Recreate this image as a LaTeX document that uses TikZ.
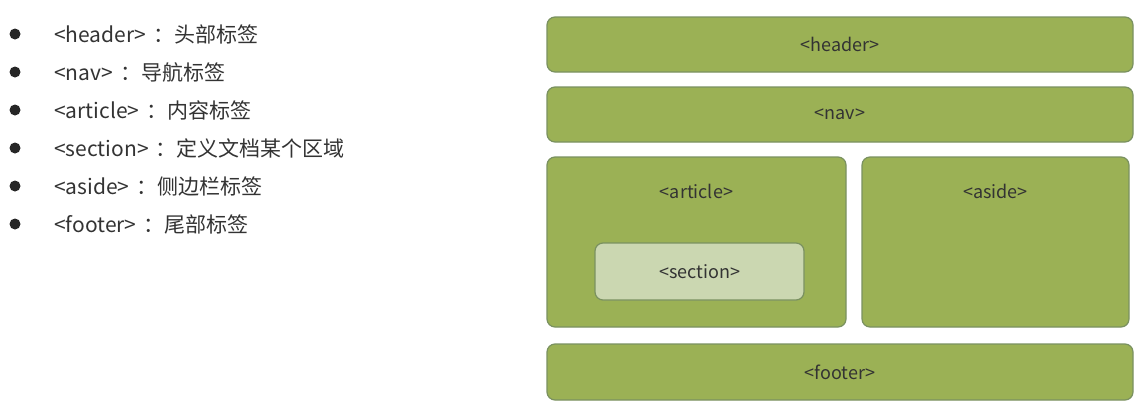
\documentclass[tikz,border=0pt]{standalone}
\usepackage{fontspec}
\setmainfont{Noto Sans CJK SC}
\usetikzlibrary{positioning}
\definecolor{boxgreen}{HTML}{9BB155}
\definecolor{boxedge}{HTML}{7A9160}
\definecolor{secfill}{HTML}{CBD7B1}
\definecolor{txtgray}{HTML}{333333}
\newcommand{\tagsep}{\hspace{7pt}：}
\tikzset{
  tagbox/.style={draw=boxedge, line width=1.2pt, fill=boxgreen, rounded corners=8pt, inner sep=0pt},
  tagtext/.style={text=txtgray, font=\fontsize{18}{20}\selectfont},
  listtext/.style={text=txtgray, anchor=west, inner sep=0pt, font=\fontsize{21}{24}\selectfont},
}
\begin{document}
\begin{tikzpicture}[x=1pt, y=-1pt]
\useasboundingbox (0,0) rectangle (1145,415);
% list on the left
\foreach \i/\txt in {1/{<header>\tagsep 头部标签}, 2/{<nav>\tagsep 导航标签}, 3/{<article>\tagsep 内容标签},
                     4/{<section>\tagsep 定义文档某个区域}, 5/{<aside>\tagsep 侧边栏标签}, 6/{<footer>\tagsep 尾部标签}} {
  \fill[black!85] (15, {34+38*(\i-1)}) circle (5.5);
  \node[listtext] (item\i) at (54, {34+38*(\i-1)}) {\txt};
}
% page layout boxes
\node[tagbox, minimum width=586pt, minimum height=55pt] (hdr) at (840,44.5) {};
\node[tagtext] at (hdr.center) {<header>};
\node[tagbox, minimum width=586pt, minimum height=55pt] (nav) at (840,114.5) {};
\node[tagtext] at (nav.center) {<nav>};
\node[tagbox, minimum width=299pt, minimum height=170pt] (article) at (696.5,242) {};
\node[tagtext] at ([yshift=-35pt]article.north) {<article>};
\node[tagbox, minimum width=267pt, minimum height=170pt] (aside) at (995.5,242) {};
\node[tagtext] at ([yshift=-35pt]aside.north) {<aside>};
\node[tagbox, fill=secfill, minimum width=209pt, minimum height=57pt] (sect) at (699.5,271.5) {};
\node[tagtext] at (sect.center) {<section>};
\node[tagbox, minimum width=586pt, minimum height=56pt] (footer) at (840,372) {};
\node[tagtext] at (footer.center) {<footer>};
\end{tikzpicture}
\end{document}
